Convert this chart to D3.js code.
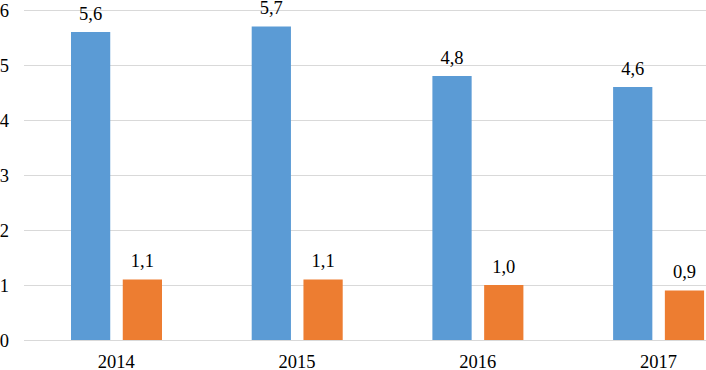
<!DOCTYPE html>
<html lang="en">
	<head>
		<meta charset="utf-8">
		<title>D3: grouped bars</title>
		<script src="https://d3js.org/d3.v7.min.js"></script>
		<style type="text/css">
			body { margin: 0; background: #fff; }
			svg text { font-family: "Liberation Serif", "Times New Roman"; }
		</style>
	</head>
	<body>
		<script type="text/javascript">

			var years = ["2014", "2015", "2016", "2017"];
			var seriesA = [5.6, 5.7, 4.8, 4.6];
			var seriesB = [1.1, 1.1, 1.0, 0.9];
			var yTicks = [0, 1, 2, 3, 4, 5, 6];
			var colors = ["#5b9bd5", "#ed7d31"];

			var width = 706, height = 370;
			var plotLeft = 26, step = 180.7;
			var fontSize = "18.5px";

			var svg = d3.select("body")
				.append("svg")
				.attr("width", width)
				.attr("height", height);

			var x0 = d3.scaleBand()
				.domain(years)
				.range([plotLeft, plotLeft + step * years.length])
				.paddingInner(0)
				.paddingOuter(0);

			// two bars of 40px with an 11px gap, centred in each band
			var x1 = d3.scaleBand()
				.domain([0, 1])
				.range([45, 45 + 91])
				.paddingInner(11 / 45.5);

			var y = d3.scaleLinear()
				.domain([0, 6])
				.range([340, 10]);

			// gridlines
			svg.append("g")
				.selectAll("line")
				.data(yTicks)
				.enter()
				.append("line")
				.attr("x1", 24)
				.attr("x2", width)
				.attr("y1", function(d){ return Math.round(y(d)) + 0.5; })
				.attr("y2", function(d){ return Math.round(y(d)) + 0.5; })
				.attr("stroke", "#d9d9d9")
				.attr("stroke-width", 1);

			// y axis labels
			svg.append("g")
				.selectAll("text")
				.data(yTicks)
				.enter()
				.append("text")
				.attr("x", 9)
				.attr("y", function(d){ return y(d) + 6.5; })
				.attr("text-anchor", "end")
				.attr("font-size", fontSize)
				.text(function(d){ return d; });

			// x axis labels
			svg.append("g")
				.selectAll("text")
				.data(years)
				.enter()
				.append("text")
				.attr("x", function(d){ return x0(d) + x0.bandwidth() / 2; })
				.attr("y", 367.5)
				.attr("text-anchor", "middle")
				.attr("font-size", fontSize)
				.text(function(d){ return d; });

			var rows = years.map(function(yr, i){
				return { year: yr, values: [seriesA[i], seriesB[i]] };
			});

			var groups = svg.append("g")
				.selectAll("g")
				.data(rows)
				.enter()
				.append("g")
				.attr("transform", function(d){ return "translate(" + x0(d.year) + ",0)"; });

			groups.selectAll("rect")
				.data(function(d){ return d.values.map(function(v, k){ return { k: k, v: v }; }); })
				.enter()
				.append("rect")
				.attr("x", function(d){ return x1(d.k); })
				.attr("width", x1.bandwidth())
				.attr("y", function(d){ return y(d.v); })
				.attr("height", function(d){ return y(0) - y(d.v); })
				.attr("fill", function(d){ return colors[d.k]; });

			groups.selectAll("text")
				.data(function(d){ return d.values.map(function(v, k){ return { k: k, v: v }; }); })
				.enter()
				.append("text")
				.attr("x", function(d){ return x1(d.k) + x1.bandwidth() / 2; })
				.attr("y", function(d){ return y(d.v) - 12.5; })
				.attr("text-anchor", "middle")
				.attr("font-size", fontSize)
				.attr("fill", "#000")
				.text(function(d){ return d.v.toFixed(1).replace(".", ","); });

		</script>
	</body>
</html>
